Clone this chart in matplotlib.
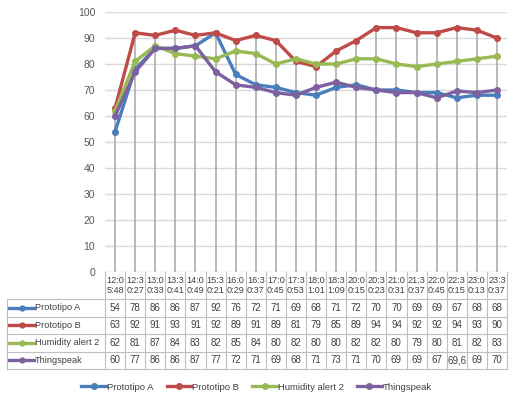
import numpy as np
import matplotlib.pyplot as plt
from matplotlib.transforms import blended_transform_factory

plt.rcParams['font.family'] = ['Liberation Sans', 'DejaVu Sans']

times = ["12:05:48", "12:30:27", "13:00:33", "13:30:41", "14:00:49", "15:30:21",
         "16:00:29", "16:30:37", "17:00:45", "17:30:53", "18:01:01", "18:31:09",
         "20:00:15", "20:30:23", "21:00:31", "21:30:37", "22:00:45", "22:30:15",
         "23:00:13", "23:30:37"]
prototipo_a = [54, 78, 86, 86, 87, 92, 76, 72, 71, 69, 68, 71, 72, 70, 70, 69, 69, 67, 68, 68]
prototipo_b = [63, 92, 91, 93, 91, 92, 89, 91, 89, 81, 79, 85, 89, 94, 94, 92, 92, 94, 93, 90]
humidity = [62, 81, 87, 84, 83, 82, 85, 84, 80, 82, 80, 80, 82, 82, 80, 79, 80, 81, 82, 83]
thingspeak = [60, 77, 86, 86, 87, 77, 72, 71, 69, 68, 71, 73, 71, 70, 69, 69, 67, 69.6, 69, 70]

names = ["Prototipo A", "Prototipo B", "Humidity alert 2", "Thingspeak"]
series = [prototipo_a, prototipo_b, humidity, thingspeak]
colors = ["#4A7EBB", "#BE4B48", "#98B954", "#7D60A0"]

W, H = 513, 397
fig = plt.figure(figsize=(W/100, H/100), dpi=100)
ax = fig.add_axes([105/W, 1-272/H, 402/W, 260/H])

x = np.arange(len(times))
# drop lines from the highest point to the axis
tops = np.max(np.array(series), axis=0)
ax.vlines(x, 0, tops, color="#A6A6A6", lw=1.1, zorder=2)

for vals, c, n in zip(series, colors, names):
    ax.plot(x, vals, color=c, lw=2.4, marker="o", ms=4, label=n, zorder=3)

ax.set_xlim(-0.5, len(times)-0.5)
ax.set_ylim(0, 100)
ax.set_yticks(range(0, 101, 10))
ax.yaxis.grid(True, color="#D9D9D9", lw=1)
ax.set_axisbelow(True)
for s in ax.spines.values():
    s.set_visible(False)
ax.tick_params(axis="y", length=0, labelsize=7.5, labelcolor="#595959", pad=7)
ax.set_xticks([])

# data table under the chart
tr = blended_transform_factory(ax.transData, fig.transFigure)
def fy(p):
    return 1 - p/H
bc = "#BFBFBF"
head_top, head_bot = 272, 299
row_h = 17.5
# header cells
for i, t in enumerate(times):
    ax.text(i, fy((head_top+head_bot)/2), t[:4] + "\n" + t[4:], transform=tr,
            ha="center", va="center", fontsize=6.6, color="#404040",
            linespacing=1.05, clip_on=False)
for k in range(len(times)+1):
    ax.plot([k-0.5, k-0.5], [fy(head_top), fy(head_bot + 4*row_h)], transform=tr,
            color=bc, lw=0.8, clip_on=False)
# row lines
for r in range(5):
    yy = fy(head_bot + r*row_h)
    fig.add_artist(plt.Line2D([7/W, 507/W], [yy, yy], color=bc, lw=0.8))
fig.add_artist(plt.Line2D([7/W, 7/W], [fy(head_bot), fy(head_bot+4*row_h)], color=bc, lw=0.8))
for r, (vals, c, n) in enumerate(zip(series, colors, names)):
    yc = fy(head_bot + (r+0.5)*row_h)
    fig.add_artist(plt.Line2D([9/W, 34/W], [yc, yc], color=c, lw=2.4))
    fig.add_artist(plt.Line2D([21.5/W], [yc], color=c, marker="o", ms=3.5))
    fig.text(35/W, yc, n, ha="left", va="center", fontsize=6.6, color="#404040")
    for i, v in enumerate(vals):
        lab = str(v).replace(".", ",")
        ax.text(i, yc, lab, transform=tr, ha="center", va="center",
                fontsize=7, color="#404040", clip_on=False)

fig.legend(loc="center", bbox_to_anchor=(0.5, 1-387/H), ncol=4, frameon=False,
           fontsize=6.8, handlelength=2.6, handletextpad=0.1, columnspacing=1.4,
           labelcolor="#404040")

fig.savefig("out.png", dpi=100)
